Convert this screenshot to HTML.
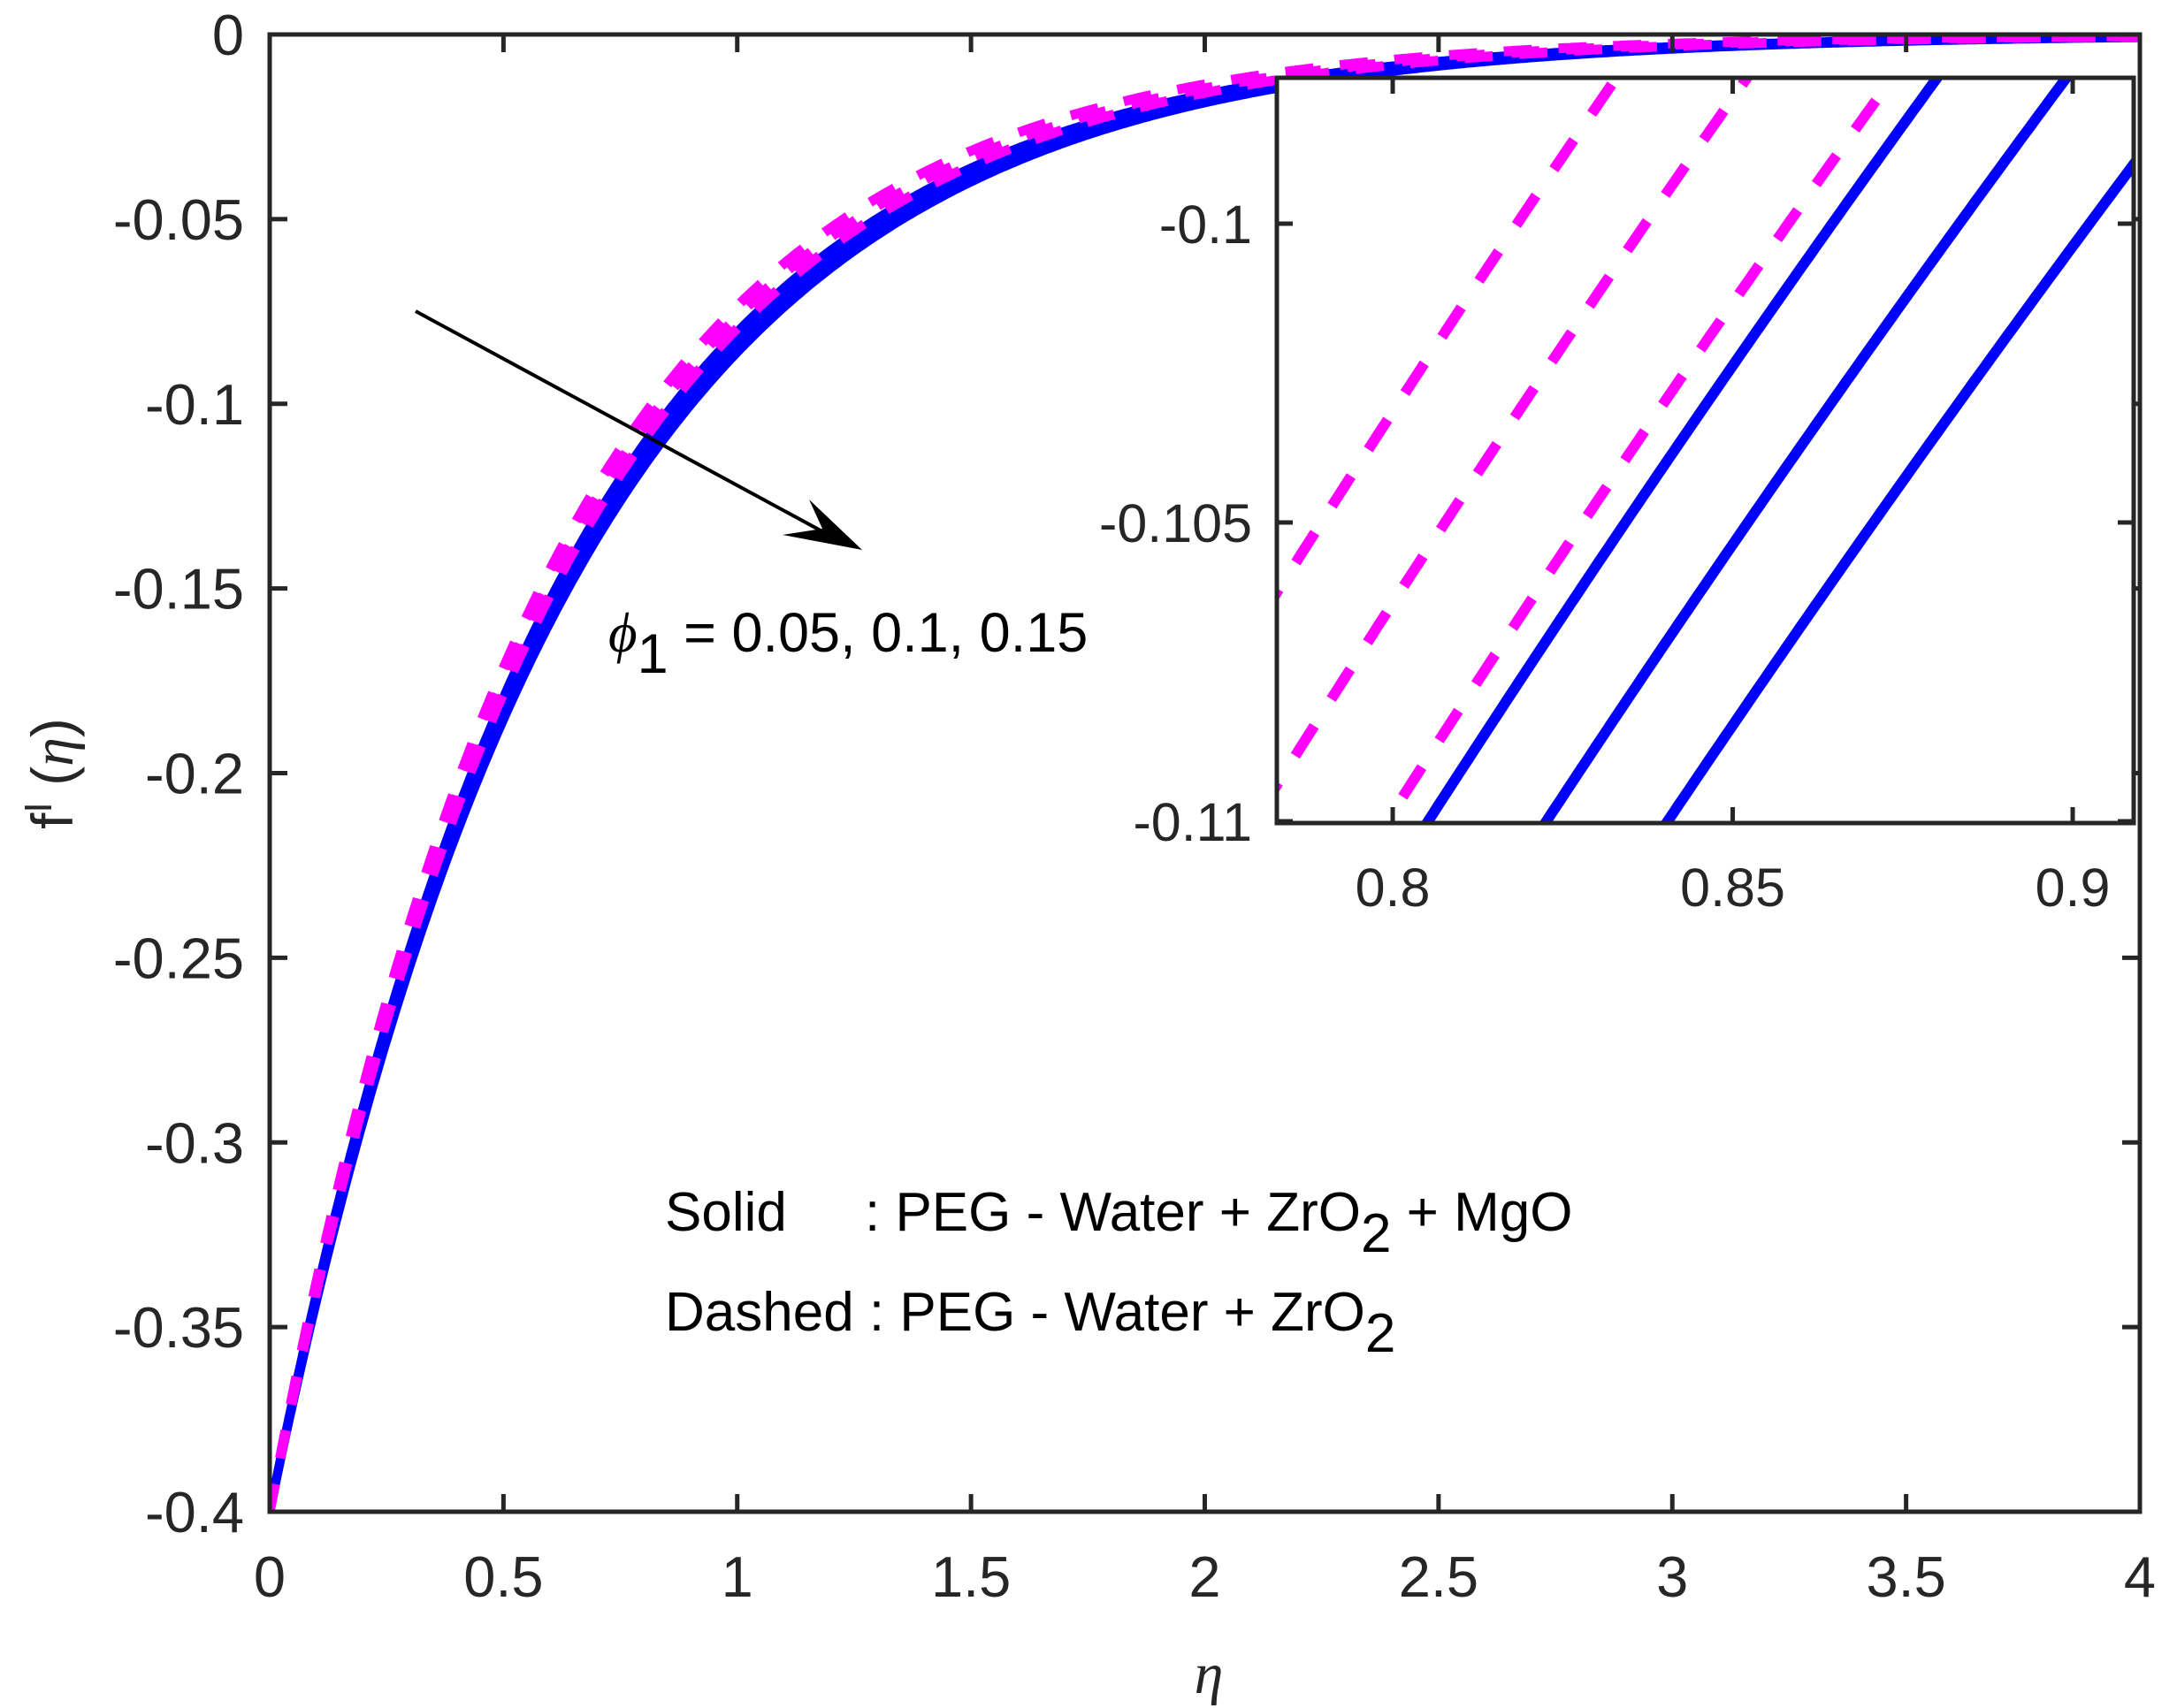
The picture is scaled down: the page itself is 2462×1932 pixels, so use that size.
<!DOCTYPE html>
<html><head><meta charset="utf-8"><style>
html,body{margin:0;padding:0;background:#fff;}
svg{display:block;font-family:"Liberation Sans",Arial,sans-serif;}
</style></head><body>
<svg id="s" width="2462" height="1932" viewBox="0 0 2462 1932" xmlns="http://www.w3.org/2000/svg">
<defs>
<clipPath id="cm"><rect x="305" y="39" width="2115" height="1671"/></clipPath>
<clipPath id="ci"><rect x="1444" y="88" width="969" height="843"/></clipPath>
</defs>
<rect width="2462" height="1932" fill="#fff"/>
<g id="main" clip-path="url(#cm)"></g>
<g id="axes" stroke="#262626" stroke-width="5" fill="none"></g>
<g font-size="65" fill="#262626" id="labels"></g>
<line x1="470" y1="352" x2="950" y2="612" stroke="#000" stroke-width="4"/>
<polygon points="975,622 915,565 930,598 885,605" fill="#000"/>
<text x="688" y="737" font-size="63" fill="#000"><tspan font-family="Liberation Serif,serif" font-style="italic">ϕ</tspan><tspan dy="24">1</tspan><tspan dy="-24"> = 0.05, 0.1, 0.15</tspan></text>
<text x="752" y="1392" font-size="62" fill="#000">Solid<tspan x="978">: PEG - Water + ZrO</tspan><tspan dy="24">2</tspan><tspan dy="-24"> + MgO</tspan></text>
<text x="752" y="1505" font-size="62" fill="#000">Dashed : PEG - Water + ZrO<tspan dy="24">2</tspan></text>
<text x="1367" y="1915" font-size="66" font-family="Liberation Serif,serif" font-style="italic" text-anchor="middle" fill="#262626">η</text>
<text transform="translate(82,875) rotate(-90)" font-size="66" text-anchor="middle" fill="#262626">f<tspan dy="-24" font-size="44">I</tspan><tspan dy="24"> (</tspan><tspan font-family="Liberation Serif,serif" font-style="italic">η</tspan>)</text>
<rect x="1444" y="88" width="969" height="843" fill="#fff"/>
<g id="inset" clip-path="url(#ci)"></g>
<g id="iaxes" stroke="#262626" stroke-width="5" fill="none"></g>
<g font-size="61" fill="#262626" id="ilabels"></g>
</svg>
<script>
var NS="http://www.w3.org/2000/svg";
function el(p,t,a,txt){var e=document.createElementNS(NS,t);for(var k in a)e.setAttribute(k,a[k]);if(txt!==undefined)e.textContent=txt;document.getElementById(p).appendChild(e);return e;}
function MX(h){return 305+h*528.75;} function MY(f){return 39-f*4178;}
function IX(h){return 1444+(h-0.78296)*7690;} function IY(f){return 88+(-0.09756-f)*67600;}
function path(k,X,Y,a,b,n){var d="";for(var i=0;i<=n;i++){var h=a+(b-a)*i/n;var f=-0.4*Math.exp(-k*h);d+=(i?"L":"M")+X(h).toFixed(1)+","+Y(f).toFixed(1);}return d;}
var blue=[1.6033,1.5694,1.5361], mag=[1.6941,1.6559,1.6154];
blue.forEach(function(k){el("main","path",{d:path(k,MX,MY,0,4,600),stroke:"#0000ff","stroke-width":10,fill:"none"});});
mag.forEach(function(k){el("main","path",{d:path(k,MX,MY,0,4,600),stroke:"#ff00ff","stroke-width":11,fill:"none","stroke-dasharray":"32,30"});});
blue.forEach(function(k){el("inset","path",{d:path(k,IX,IY,0.77,0.92,200),stroke:"#0000ff","stroke-width":12,fill:"none"});});
mag.forEach(function(k){el("inset","path",{d:path(k,IX,IY,0.77,0.92,200),stroke:"#ff00ff","stroke-width":12,fill:"none","stroke-dasharray":"40,36"});});
el("axes","rect",{x:305,y:39,width:2115,height:1671});
for(var i=0;i<=8;i++){var x=305+i*264.375;
 el("axes","line",{x1:x,y1:1710,x2:x,y2:1690});el("axes","line",{x1:x,y1:39,x2:x,y2:59});
 el("labels","text",{x:x,y:1806,"text-anchor":"middle"},String(i*0.5));
 var y=39+i*208.875;
 el("axes","line",{x1:305,y1:y,x2:325,y2:y});el("axes","line",{x1:2420,y1:y,x2:2400,y2:y});
 var lab=i==0?"0":"-"+String(+(i*0.05).toFixed(2));
 el("labels","text",{x:276,y:y+23,"text-anchor":"end"},lab);
}
el("iaxes","rect",{x:1444,y:88,width:969,height:843});
[0.8,0.85,0.9].forEach(function(h){var x=IX(h);
 el("iaxes","line",{x1:x,y1:931,x2:x,y2:913});el("iaxes","line",{x1:x,y1:88,x2:x,y2:106});
 el("ilabels","text",{x:x,y:1025,"text-anchor":"middle"},String(h));});
[-0.1,-0.105,-0.11].forEach(function(f){var y=IY(f);
 el("iaxes","line",{x1:1444,y1:y,x2:1462,y2:y});el("iaxes","line",{x1:2413,y1:y,x2:2395,y2:y});
 el("ilabels","text",{x:1416,y:y+22,"text-anchor":"end"},String(f));});
</script>
</body></html>
